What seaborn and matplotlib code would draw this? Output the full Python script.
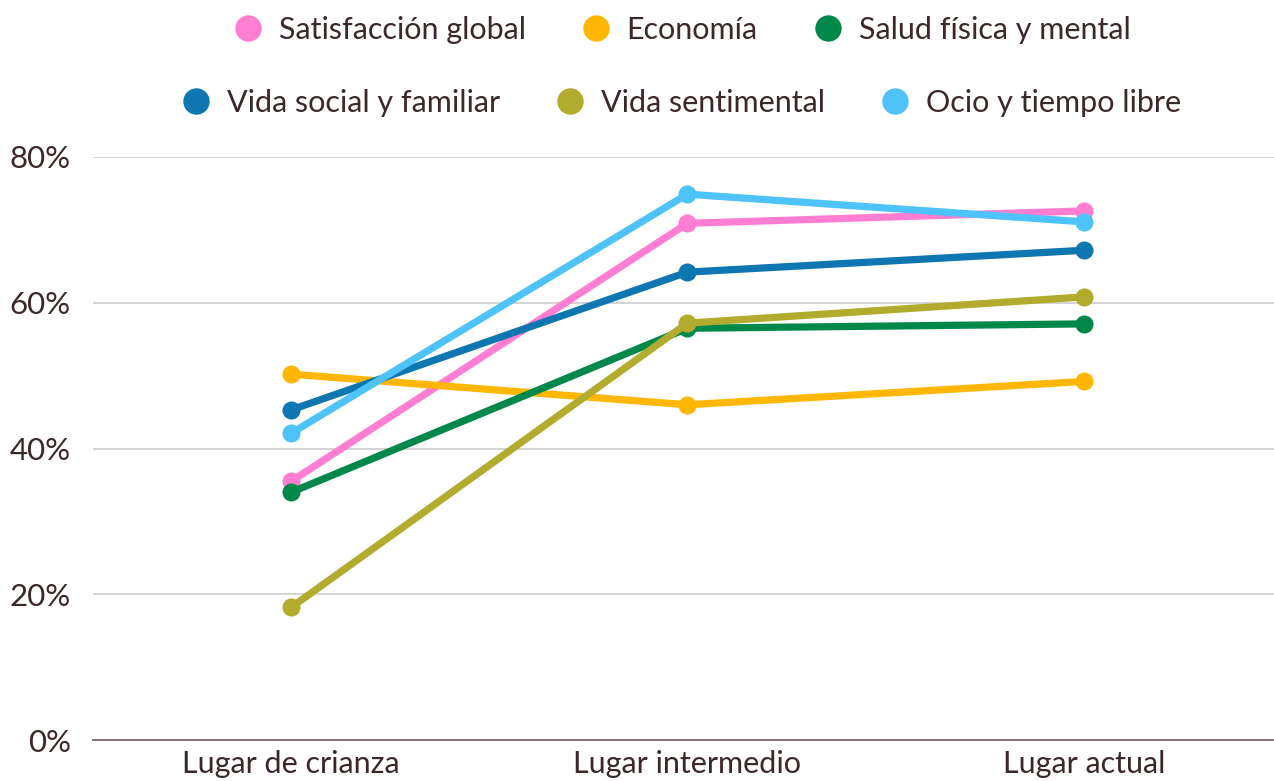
import pandas as pd
import numpy as np
import matplotlib
matplotlib.use("Agg")
import matplotlib.pyplot as plt
import seaborn as sns
from matplotlib.lines import Line2D

lugares = ["Lugar de crianza", "Lugar intermedio", "Lugar actual"]
series = ["Satisfacción global", "Economía", "Salud física y mental",
          "Vida social y familiar", "Vida sentimental", "Ocio y tiempo libre"]

satisfaccion = [35.5, 70.9, 72.6]
economia = [50.2, 46.0, 49.2]
salud = [34.0, 56.5, 57.1]
social = [45.3, 64.2, 67.2]
sentimental = [18.2, 57.2, 60.8]
ocio = [42.1, 74.9, 71.1]

colores = ["#FF7ED1", "#FFB703", "#00884A", "#0E76B0", "#B1AC2E", "#4DC3FA"]

valores = [satisfaccion, economia, salud, social, sentimental, ocio]
df = pd.DataFrame({
    "x": np.tile(np.arange(len(lugares)), len(series)),
    "valor": np.concatenate(valores),
    "serie": np.repeat(series, len(lugares)),
})

sns.set_style("white")
plt.rcParams["font.family"] = ["Lato", "DejaVu Sans"]
texto = "#3B2828"

fig = plt.figure(figsize=(12.74, 7.81), dpi=100)
ax = fig.add_axes([93 / 1274, 41 / 781, (1274 - 93) / 1274, (740 - 157) / 781])

sns.lineplot(data=df, x="x", y="valor", hue="serie", hue_order=series,
             palette=colores, marker="o", markersize=13, markeredgewidth=0,
             linewidth=5.2, legend=False, ax=ax)

ax.set_ylim(0, 80)
ax.set_xlim(-0.5, 2.48)
ax.set_yticks([0, 20, 40, 60, 80])
ax.set_yticklabels([f"{v}%" for v in [0, 20, 40, 60, 80]], fontsize=22.5, color=texto)
ax.set_xticks(range(len(lugares)))
ax.set_xticklabels(lugares, fontsize=22, color=texto)
ax.tick_params(axis="x", length=0, pad=7)
ax.tick_params(axis="y", length=0, pad=16)
ax.set_xlabel("")
ax.set_ylabel("")
ax.grid(axis="y", color="#D0D0D0", linewidth=1.3)
ax.set_axisbelow(True)
for s in ["top", "right", "left"]:
    ax.spines[s].set_visible(False)
ax.spines["bottom"].set_color("#7A6A6A")
ax.spines["bottom"].set_linewidth(1.3)
ax.spines["bottom"].set_zorder(1)

handles = [Line2D([], [], marker="o", linestyle="", markersize=19,
                  markeredgewidth=0, color=c) for c in colores]
leg1 = fig.legend(handles[:3], series[:3], loc="center", ncol=3,
                  bbox_to_anchor=(681 / 1274, 1 - 30 / 781), frameon=False,
                  fontsize=22, handletextpad=0.45, columnspacing=1.75,
                  handlelength=1.1, labelcolor=texto)
leg2 = fig.legend(handles[3:], series[3:], loc="center", ncol=3,
                  bbox_to_anchor=(680 / 1274, 1 - 103 / 781), frameon=False,
                  fontsize=22, handletextpad=0.45, columnspacing=1.75,
                  handlelength=1.1, labelcolor=texto)

fig.savefig("out.png", dpi=100)
